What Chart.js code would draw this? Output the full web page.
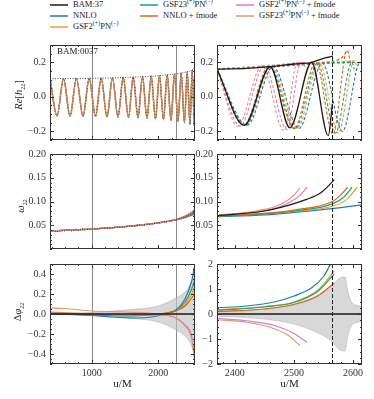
<!DOCTYPE html>
<html>
<head>
<meta charset="utf-8">
<script src="https://cdn.jsdelivr.net/npm/chart.js@4/dist/chart.umd.min.js"></script>
<style>
body { margin: 0; background: #fff; width: 374px; height: 399px; position: relative; overflow: hidden; font-family: "Liberation Serif", "DejaVu Serif", serif; color: #222; }
canvas { position: absolute; }
.leg { position: absolute; font-size: 8.5px; white-space: nowrap; line-height: 10px; }
.leg i { display: inline-block; width: 18px; height: 2px; vertical-align: middle; margin-right: 5px; margin-top: -1px; }
.leg sup, .ylab sub { font-size: 6px; line-height: 0; }
.ylab { position: absolute; font-size: 10.5px; white-space: nowrap; transform: translate(-50%, -50%) rotate(-90deg); }
.tag { position: absolute; font-size: 9px; }
</style>
</head>
<body>
<div id="legend"></div>
<canvas id="c1" width="200" height="115" style="left:0;top:35px"></canvas>
<canvas id="c2" width="179" height="115" style="left:195px;top:35px"></canvas>
<canvas id="c3" width="200" height="115" style="left:0;top:144px"></canvas>
<canvas id="c4" width="179" height="115" style="left:195px;top:144px"></canvas>
<canvas id="c5" width="200" height="145" style="left:0;top:254px"></canvas>
<canvas id="c6" width="179" height="145" style="left:195px;top:254px"></canvas>
<div class="ylab" style="left:18px;top:95px"><i>Re</i>[<i>h</i><sub>22</sub>]</div>
<div class="ylab" style="left:20px;top:206px"><i>ω</i><sub>22</sub></div>
<div class="ylab" style="left:17px;top:312px">Δ<i>φ</i><sub>22</sub></div>
<div class="tag" style="left:57px;top:46px">BAM:0037</div>
<script>
// series names / colours (legend order)
const seriesNames = ['BAM:37', 'NNLO', 'GSF2<sup>(+)</sup>PN<sup>(−)</sup>', 'GSF23<sup>(+)</sup>PN<sup>(−)</sup>',
  'NNLO + fmode', 'GSF2<sup>(+)</sup>PN<sup>(−)</sup> + fmode', 'GSF23<sup>(+)</sup>PN<sup>(−)</sup> + fmode'];
const seriesColors = ['#1a1a1a', '#1f78b8', '#eea02a', '#17a57c', '#e2620f', '#d77ad8', '#dc9870'];
const legendPos = [[50, -1], [50, 10], [50, 21], [140, -1], [140, 10], [236, -1], [236, 10]];

// axes
const xLeftRange = [375, 2550];
const xRightRange = [2370, 2615];
const xTicksLeft = [1000, 2000];
const xTicksRight = [2400, 2500, 2600];
const reRange = [-0.25, 0.3];
const reTicks = [-0.2, 0, 0.2];
const omegaRange = [0, 0.2];
const omegaTicks = [0.05, 0.10, 0.15, 0.20];
const dphiLeftRange = [-0.5, 0.5];
const dphiLeftTicks = [-0.4, -0.2, 0, 0.2, 0.4];
const dphiRightRange = [-2, 2];
const dphiRightTicks = [-2, -1, 0, 1, 2];
const windowLines = [1000, 2265];
const mergerLine = 2565;

// Re[h22], left panel: extrema of the wave and the amplitude
const waveLeft = [[375,0.105],[480,-0.11],[578,0.105],[675,-0.112],[772,0.106],[870,-0.113],[963,0.107],[1057,-0.114],
  [1143,0.108],[1230,-0.116],[1312,0.11],[1395,-0.117],[1473,0.112],[1552,-0.119],[1623,0.114],[1695,-0.121],
  [1762,0.117],[1830,-0.124],[1893,0.12],[1957,-0.127],[2017,0.123],[2077,-0.131],[2133,0.127],[2190,-0.136],
  [2242,0.132],[2295,-0.142],[2343,0.138],[2392,-0.15],[2433,0.145],[2475,-0.16],[2508,0.155],[2542,-0.17],[2550,0.172]];
const ampLeft = [[375,0.105],[1000,0.107],[1500,0.112],[2000,0.122],[2265,0.133],[2400,0.142],[2500,0.154],[2550,0.172]];

// Re[h22], right panel
const bamWaveR = [[2370,0.16],[2416,-0.165],[2460,0.175],[2493,-0.18],[2530,0.2],[2558,-0.225],[2565,-0.04]];
const bamAmpR = [[2370,0.16],[2420,0.165],[2460,0.175],[2500,0.19],[2530,0.2],[2550,0.222],[2566,0.235]];
const nnloWaveR = [[2370,0.16],[2421,-0.165],[2465,0.175],[2508,-0.185],[2548,0.195],[2582,-0.2],[2612,0.2],[2615,0.19]];
const gsf2WaveR = [[2370,0.16],[2418,-0.165],[2462,0.175],[2505,-0.185],[2543,0.195],[2575,-0.21],[2602,0.21],[2607,0.17]];
const gsf23WaveR = [[2370,0.16],[2418,-0.165],[2460,0.175],[2502,-0.185],[2540,0.195],[2570,-0.21],[2598,0.2],[2602,0.16]];
const nnlofWaveR = [[2370,0.16],[2415,-0.165],[2458,0.178],[2500,-0.185],[2537,0.2],[2566,-0.215],[2590,0.27],[2596,0.19]];
const gsf2fWaveR = [[2370,0.16],[2409,-0.168],[2450,0.18],[2488,-0.19],[2512,0.2],[2520,0.17]];
const gsf23fWaveR = [[2370,0.16],[2405,-0.17],[2446,0.18],[2483,-0.195],[2506,0.2],[2510,0.18]];
const nnloAmpR = [[2370,0.16],[2450,0.172],[2500,0.182],[2550,0.193],[2615,0.2]];
const gsf2AmpR = [[2370,0.16],[2450,0.173],[2500,0.183],[2550,0.195],[2607,0.21]];
const gsf23AmpR = [[2370,0.16],[2450,0.173],[2500,0.184],[2550,0.196],[2600,0.2]];
const nnlofAmpR = [[2370,0.16],[2450,0.175],[2500,0.186],[2550,0.2],[2580,0.225],[2590,0.27]];
const gsf2fAmpR = [[2370,0.162],[2450,0.178],[2490,0.19],[2520,0.2]];
const gsf23fAmpR = [[2370,0.162],[2445,0.178],[2485,0.19],[2510,0.2]];

// omega22
const bamOmL = [[375,0.037],[430,0.039],[480,0.036],[540,0.04],[600,0.038],[650,0.041],[700,0.038],[760,0.042],[800,0.039],
  [850,0.043],[900,0.04],[950,0.041],[1000,0.042],[1200,0.044],[1500,0.047],[1800,0.051],[2000,0.055],[2265,0.062],[2400,0.068],[2550,0.079]];
const nnloOmL = [[375,0.038],[1000,0.042],[1500,0.047],[2000,0.055],[2265,0.061],[2400,0.066],[2500,0.071],[2550,0.074]];
const gsf2OmL = [[375,0.038],[1000,0.042],[1500,0.047],[2000,0.055],[2265,0.061],[2400,0.067],[2500,0.073],[2550,0.077]];
const gsf23OmL = [[375,0.038],[1000,0.042],[1500,0.047],[2000,0.055],[2265,0.061],[2400,0.067],[2500,0.072],[2550,0.076]];
const nnlofOmL = [[375,0.038],[1000,0.042],[1500,0.047],[2000,0.055],[2265,0.062],[2400,0.068],[2500,0.074],[2550,0.079]];
const gsf2fOmL = [[375,0.038],[1000,0.042],[1500,0.047],[2000,0.055],[2265,0.062],[2400,0.069],[2500,0.077],[2550,0.083]];
const gsf23fOmL = [[375,0.038],[1000,0.042],[1500,0.047],[2000,0.055],[2265,0.062],[2400,0.07],[2500,0.078],[2550,0.085]];
const bamOmR = [[2370,0.07],[2450,0.08],[2490,0.092],[2520,0.104],[2545,0.118],[2560,0.135],[2568,0.146]];
const nnloOmR = [[2370,0.068],[2450,0.072],[2500,0.077],[2565,0.085],[2615,0.093]];
const gsf2OmR = [[2370,0.069],[2450,0.074],[2500,0.079],[2565,0.09],[2590,0.105],[2607,0.13]];
const gsf23OmR = [[2370,0.069],[2450,0.074],[2500,0.08],[2565,0.095],[2585,0.11],[2598,0.13]];
const nnlofOmR = [[2370,0.07],[2450,0.075],[2500,0.082],[2565,0.1],[2580,0.115],[2591,0.13]];
const gsf2fOmR = [[2370,0.07],[2430,0.077],[2470,0.086],[2495,0.1],[2510,0.113],[2522,0.13]];
const gsf23fOmR = [[2370,0.071],[2430,0.079],[2470,0.09],[2490,0.103],[2502,0.116],[2510,0.128]];

// delta phi22
const bamPhL = [[375,0],[2550,0]];
const nnloPhL = [[375,0],[700,-0.005],[1000,-0.015],[1300,-0.03],[1700,-0.04],[1900,-0.03],[2100,0],[2265,0.04],[2400,0.15],[2500,0.33],[2550,0.5]];
const gsf2PhL = [[375,0.02],[1000,0],[1500,-0.01],[2000,0],[2265,0.035],[2400,0.1],[2500,0.2],[2550,0.28]];
const gsf23PhL = [[375,0.01],[1000,-0.01],[1500,-0.02],[2000,0],[2265,0.04],[2400,0.12],[2500,0.25],[2550,0.35]];
const nnlofPhL = [[375,0.01],[1000,0],[1500,-0.01],[2000,0],[2265,0.03],[2400,0.08],[2500,0.16],[2550,0.21]];
const gsf2fPhL = [[375,0.01],[1000,0],[1500,-0.01],[2000,-0.01],[2265,-0.04],[2400,-0.11],[2500,-0.22],[2550,-0.45]];
const gsf23fPhL = [[375,0.06],[600,0.055],[1000,0.03],[1500,0.02],[2000,0],[2265,-0.04],[2400,-0.12],[2500,-0.25],[2550,-0.5]];
const errUpL = [[375,0.005],[1000,0.015],[1500,0.04],[2000,0.08],[2265,0.16],[2400,0.22],[2500,0.32],[2550,0.42]];
const errLoL = [[375,-0.005],[1000,-0.015],[1500,-0.04],[2000,-0.08],[2265,-0.16],[2400,-0.22],[2500,-0.32],[2550,-0.45]];
const bamPhR = [[2370,0],[2615,0]];
const nnloPhR = [[2370,0.25],[2420,0.32],[2470,0.5],[2500,0.72],[2530,1.05],[2550,1.5],[2562,2.0]];
const gsf2PhR = [[2370,0.17],[2450,0.3],[2500,0.48],[2540,0.95],[2568,1.72]];
const gsf23PhR = [[2370,0.15],[2450,0.28],[2500,0.46],[2540,0.9],[2568,1.6]];
const nnlofPhR = [[2370,0.1],[2450,0.2],[2500,0.38],[2540,0.72],[2568,1.25]];
const gsf2fPhR = [[2370,-0.18],[2420,-0.27],[2470,-0.48],[2500,-0.78],[2522,-1.13]];
const gsf23fPhR = [[2370,-0.23],[2420,-0.33],[2460,-0.53],[2490,-0.85],[2510,-1.26]];
const errUpR = [[2370,0.08],[2450,0.2],[2500,0.4],[2540,0.75],[2565,1.12],[2575,1.4],[2586,1.48],[2591,0.9],[2597,0.48],[2605,0.35],[2615,0.3]];
const errLoR = [[2370,-0.08],[2450,-0.2],[2500,-0.4],[2540,-0.75],[2565,-1.12],[2575,-1.4],[2586,-1.48],[2591,-0.9],[2597,-0.48],[2605,-0.35],[2615,-0.3]];

// legend
const legendEl = document.getElementById('legend');
seriesNames.forEach((n, i) => {
  const d = document.createElement('div');
  d.className = 'leg';
  d.style.left = legendPos[i][0] + 'px';
  d.style.top = legendPos[i][1] + 'px';
  d.innerHTML = `<i style="background:${seriesColors[i]};opacity:0.75"></i>${n}`;
  legendEl.appendChild(d);
});

const C = seriesColors;
const line = (pts, color, extra = {}) => Object.assign({
  data: pts.map(p => ({ x: p[0], y: p[1] })),
  borderColor: color, borderWidth: 1.2, pointRadius: 0, fill: false,
  cubicInterpolationMode: 'monotone'
}, extra);
const dashed = { borderDash: [3, 2], borderWidth: 1.1 };
const band = (up, lo) => [
  line(up, 'rgba(150,150,150,0.7)', { borderWidth: 0.6, fill: '+1', backgroundColor: 'rgba(195,195,195,0.65)' }),
  line(lo, 'rgba(150,150,150,0.7)', { borderWidth: 0.6 })
];
const fmt = d => v => (v < -1e-9 ? '\u2212' : '') + Math.abs(v).toFixed(d);

// inward ticks on all sides, frame, reference lines
const frameTicks = {
  id: 'frameTicks',
  beforeDatasetsDraw(chart, args, o) { drawV(chart, o.under); },
  afterDatasetsDraw(chart, args, o) { drawV(chart, o.over); },
  afterDraw(chart, args, o) {
    const { ctx, chartArea: a, scales: { x, y } } = chart;
    ctx.save();
    ctx.strokeStyle = '#333';
    ctx.lineWidth = 1;
    ctx.beginPath();
    const xt = (v, len) => {
      const p = Math.round(x.getPixelForValue(v)) + 0.5;
      ctx.moveTo(p, a.bottom); ctx.lineTo(p, a.bottom - len);
      ctx.moveTo(p, a.top); ctx.lineTo(p, a.top + len);
    };
    const yt = (v, len) => {
      const p = Math.round(y.getPixelForValue(v)) + 0.5;
      ctx.moveTo(a.left, p); ctx.lineTo(a.left + len, p);
      ctx.moveTo(a.right, p); ctx.lineTo(a.right - len, p);
    };
    for (let v = Math.ceil(x.min / o.xMinor) * o.xMinor; v <= x.max; v += o.xMinor) xt(v, 2);
    for (let v = Math.ceil(y.min / o.yMinor - 1e-6) * o.yMinor; v <= y.max + 1e-9; v += o.yMinor) yt(v, 2);
    o.xMajor.forEach(v => xt(v, 4));
    o.yMajor.forEach(v => yt(v, 4));
    ctx.stroke();
    ctx.strokeRect(a.left + 0.5, a.top + 0.5, a.width - 1, a.height - 1);
    ctx.restore();
  }
};
function drawV(chart, list) {
  if (!list) return;
  const { ctx, chartArea: a, scales: { x } } = chart;
  ctx.save();
  list.forEach(l => {
    const p = Math.round(x.getPixelForValue(l.x)) + 0.5;
    ctx.strokeStyle = l.color; ctx.lineWidth = l.width; ctx.setLineDash(l.dash || []);
    ctx.beginPath(); ctx.moveTo(p, a.top); ctx.lineTo(p, a.bottom); ctx.stroke();
  });
  ctx.restore();
}

const tickFont = { family: '"Liberation Serif", serif', size: 10 };
function makeChart(id, c) {
  return new Chart(document.getElementById(id), {
    type: 'line',
    data: { datasets: c.datasets },
    options: {
      responsive: false, animation: false, devicePixelRatio: 1,
      layout: { padding: c.pad },
      plugins: {
        legend: { display: false }, tooltip: { enabled: false },
        frameTicks: { xMajor: c.xTicks, yMajor: c.yTicks, xMinor: c.xMinor, yMinor: c.yMinor, under: c.under, over: c.over }
      },
      scales: {
        x: {
          type: 'linear', min: c.xRange[0], max: c.xRange[1], display: c.showX,
          afterBuildTicks: s => { s.ticks = c.xTicks.map(v => ({ value: v })); },
          afterFit: s => { s.height = c.showX ? 35 : 0; },
          grid: { display: false, drawTicks: false }, border: { display: false },
          ticks: { color: '#333', font: tickFont, padding: 3, maxRotation: 0, callback: v => String(v) },
          title: { display: true, text: 'u/M', color: '#222', font: { family: '"Liberation Serif", serif', size: 11 }, padding: { top: 0, bottom: 8 } }
        },
        y: {
          min: c.yRange[0], max: c.yRange[1],
          afterBuildTicks: s => { s.ticks = c.yTicks.map(v => ({ value: v })); },
          afterFit: s => { s.width = c.yw; },
          grid: { display: false, drawTicks: false }, border: { display: false },
          ticks: { color: '#333', font: tickFont, padding: 4, callback: fmt(c.dec) }
        }
      }
    },
    plugins: [frameTicks]
  });
}

const grayLines = windowLines.map(v => ({ x: v, color: '#8a8a8a', width: 1 }));
const mergerDash = [{ x: mergerLine, color: '#222', width: 1, dash: [4, 2] }];
const leftBase = { xRange: xLeftRange, xTicks: xTicksLeft, xMinor: 200, yw: 50, under: grayLines };
const rightBase = { xRange: xRightRange, xTicks: xTicksRight, xMinor: 20, yw: 22, over: mergerDash };

// top row
makeChart('c1', Object.assign({}, leftBase, {
  pad: { top: 5, bottom: 6, left: 0, right: 5 }, showX: false,
  yRange: reRange, yTicks: reTicks, yMinor: 0.05, dec: 1,
  datasets: [
    line(ampLeft, '#333', { borderWidth: 0.9, borderDash: [1, 1.5] }),
    line(waveLeft, '#444', { borderWidth: 0.8, borderDash: [1, 2] }),
    line(waveLeft, C[6], { borderWidth: 1.6 }),
    line(waveLeft, C[4], { borderWidth: 1.2 }),
    line(waveLeft, C[3], { borderWidth: 1.2 })
  ]
}));
makeChart('c2', Object.assign({}, rightBase, {
  pad: { top: 5, bottom: 6, left: 0, right: 12 }, showX: false,
  yRange: reRange, yTicks: reTicks, yMinor: 0.05, dec: 1,
  datasets: [
    line(bamWaveR, C[0], { borderWidth: 1.3 }),
    line(bamAmpR, C[0], { borderWidth: 1.3 }),
    line(gsf23fWaveR, C[6], dashed), line(gsf2fWaveR, C[5], dashed),
    line(nnlofWaveR, C[4], dashed), line(gsf23WaveR, C[3], dashed),
    line(gsf2WaveR, C[2], dashed), line(nnloWaveR, C[1], dashed),
    line(gsf23fAmpR, C[6], dashed), line(gsf2fAmpR, C[5], dashed),
    line(nnlofAmpR, C[4], dashed), line(gsf23AmpR, C[3], dashed),
    line(gsf2AmpR, C[2], dashed), line(nnloAmpR, C[1], dashed)
  ]
}));

// middle row
makeChart('c3', Object.assign({}, leftBase, {
  pad: { top: 5, bottom: 5, left: 0, right: 5 }, showX: false,
  yRange: omegaRange, yTicks: omegaTicks, yMinor: 0.01, dec: 2,
  datasets: [
    line(bamOmL, C[0], { borderWidth: 1, borderDash: [1, 1.5], cubicInterpolationMode: 'default', tension: 0 }),
    line(gsf23fOmL, C[6]), line(gsf2fOmL, C[5]), line(nnlofOmL, C[4]),
    line(gsf23OmL, C[3]), line(gsf2OmL, C[2]), line(nnloOmL, C[1])
  ]
}));
makeChart('c4', Object.assign({}, rightBase, {
  pad: { top: 5, bottom: 5, left: 0, right: 12 }, showX: false,
  yRange: omegaRange, yTicks: omegaTicks, yMinor: 0.01, dec: 2,
  datasets: [
    line(bamOmR, C[0]),
    line(gsf23fOmR, C[6]), line(gsf2fOmR, C[5]), line(nnlofOmR, C[4]),
    line(gsf23OmR, C[3]), line(gsf2OmR, C[2]), line(nnloOmR, C[1])
  ]
}));

// bottom row
makeChart('c5', Object.assign({}, leftBase, {
  pad: { top: 5, bottom: 0, left: 0, right: 5 }, showX: true,
  yRange: dphiLeftRange, yTicks: dphiLeftTicks, yMinor: 0.05, dec: 1,
  datasets: [
    line(bamPhL, C[0], { borderWidth: 1.4 }),
    line(gsf23fPhL, C[6]), line(gsf2fPhL, C[5]), line(nnlofPhL, C[4]),
    line(gsf23PhL, C[3]), line(gsf2PhL, C[2]), line(nnloPhL, C[1]),
    ...band(errUpL, errLoL)
  ]
}));
makeChart('c6', Object.assign({}, rightBase, {
  pad: { top: 5, bottom: 0, left: 0, right: 12 }, showX: true,
  yRange: dphiRightRange, yTicks: dphiRightTicks, yMinor: 0.25, dec: 0,
  datasets: [
    line(bamPhR, C[0], { borderWidth: 1.4 }),
    line(gsf23fPhR, C[6]), line(gsf2fPhR, C[5]), line(nnlofPhR, C[4]),
    line(gsf23PhR, C[3]), line(gsf2PhR, C[2]), line(nnloPhR, C[1]),
    ...band(errUpR, errLoR)
  ]
}));
</script>
</body>
</html>
